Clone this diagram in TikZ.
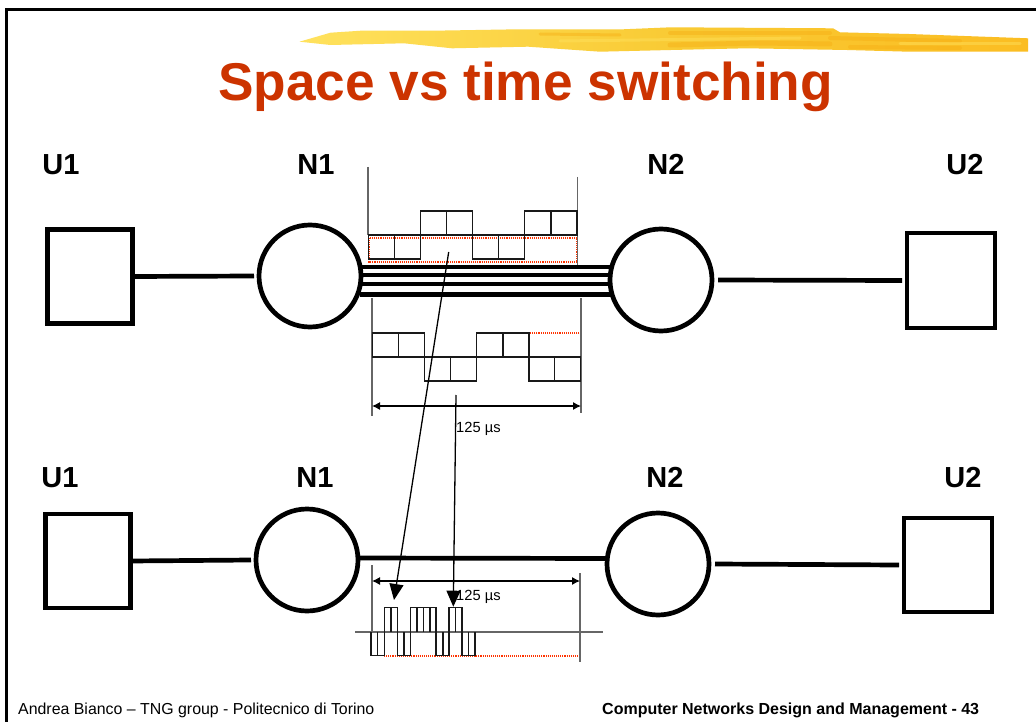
\documentclass[tikz,border=0pt]{standalone}
\usepackage{fontspec}
\setmainfont{Liberation Sans}
\usetikzlibrary{arrows.meta}
\definecolor{titlered}{HTML}{CC3300}
\definecolor{dotred}{HTML}{FF3300}
\definecolor{brushpale}{HTML}{FFE25E}
\definecolor{brushmid}{HTML}{F9CB35}
\definecolor{brushdeep}{HTML}{FBBD22}
\definecolor{brushdark}{HTML}{F6AE14}
\tikzset{
  thickline/.style={line width=4.7pt,black},
  slotline/.style={line width=1.3pt,black!90},
  guide/.style={line width=1.1pt,black!60},
  reddots/.style={line width=1.1pt,dotred,densely dotted},
  streak/.style={line width=#1,line cap=round,opacity=.45},
  usernode/.style={draw,thickline,rectangle,outer sep=0pt,inner sep=0pt},
  netnode/.style={draw,thickline,circle,outer sep=0pt,inner sep=0pt,minimum size=102pt},
  namelabel/.style={font=\fontsize{29}{29}\bfseries\selectfont,anchor=base,inner sep=0pt},
  timelabel/.style={font=\fontsize{14.7}{15}\selectfont,anchor=base west,inner sep=0pt},
  footlabel/.style={font=\fontsize{15.9}{16}\selectfont,anchor=base west,inner sep=0pt},
  dimarrow/.style={line width=1.1pt,black,{Latex[length=8pt,width=8pt]}-{Latex[length=8pt,width=8pt]}},
  bigarrow/.style={line width=1.3pt,black,-{Triangle[length=16pt,width=14pt]}}
}
\begin{document}
\begin{tikzpicture}[x=1pt,y=-1pt]
\useasboundingbox (0,0) rectangle (1036,722);
\fill[white] (0,0) rectangle (1036,722);
% slide frame
\draw[line width=3pt] (6,722) -- (6,9.5) -- (1036,9.5);
% brush stroke
\shade[left color=brushpale,right color=brushdeep,middle color=brushmid]
  (299.5,41.7) -- (330.5,32.7) -- (361,30.7) -- (433,30.7) -- (518.6,29.3) -- (623,29.3)
  -- (671,27.3) -- (833,28.3) -- (840,32.3) -- (909,34) -- (1028,38.3) -- (1028,51.7)
  -- (909,51.7) -- (847,50) -- (747,48.3) -- (671,50) -- (600,51.7) -- (528,46.7)
  -- (452,48.3) -- (404,43.3) -- (330.5,45) -- cycle;
\draw [streak=3pt,brushdark] (540,34) -- (620,35);
\draw [streak=5pt,brushdark] (670,45) -- (760,43) -- (830,44);
\draw [streak=4pt,brushdark] (670,33) -- (830,33);
\draw [streak=4pt,brushdark] (830,38) -- (960,41);
\draw [streak=4pt,brushdark] (850,47) -- (960,48);
\draw [streak=3pt,brushpale] (560,41) -- (800,38);
\draw [streak=3pt,brushpale] (900,44) -- (1020,44);
% title
\node (title) [font=\fontsize{53.2}{54}\bfseries\selectfont,text=titlered,anchor=base,inner sep=0pt] at (525.5,101) {Space vs time switching};

% upper network
\node (upA) [namelabel] at (61,174.5) {U1};
\node (unA) [namelabel] at (316,174.5) {N1};
\node (unB) [namelabel] at (666,174.5) {N2};
\node (upB) [namelabel] at (965,174.5) {U2};
\node (sqA) [usernode,minimum width=85pt,minimum height=94pt] at (90,276.5) {};
\node (ciA) [netnode] at (310,276) {};
\node (ciB) [netnode] at (661,280) {};
\node (sqB) [usernode,minimum width=88pt,minimum height=95pt] at (951,280.5) {};
\draw [thickline] (sqA.east) -- ([xshift=-5pt]ciA.west);
\draw [thickline] ([xshift=6pt]ciB.east) -- ([xshift=-5pt]sqB.west);
\foreach \off in {267,275,284,294.5} {
  \draw [thickline] (360,\off) -- (611,\off);
}

% lower network
\node (loA) [namelabel] at (60,487.5) {U1};
\node (lnA) [namelabel] at (315,487.5) {N1};
\node (lnB) [namelabel] at (665,487.5) {N2};
\node (loB) [namelabel] at (963,487.5) {U2};
\node (sqC) [usernode,minimum width=85pt,minimum height=94pt] at (88,561) {};
\node (ciC) [netnode] at (307,560) {};
\node (ciD) [netnode] at (658,564) {};
\node (sqD) [usernode,minimum width=88pt,minimum height=94pt] at (948,565) {};
\draw [thickline] (sqC.east) -- ([xshift=-5pt]ciC.west);
\draw [thickline] ([yshift=2pt]ciC.east) -- ([yshift=5.5pt]ciD.west);
\draw [thickline] ([xshift=6pt]ciD.east) -- ([xshift=-5pt]sqD.west);

% upper slots
\draw [reddots] (369,238) rectangle (577,262);
\draw [guide] (368,167) -- (368,235);
\draw [guide] (577.5,177) -- (577.5,265);
\draw [slotline] (368.3,235) -- (368.3,259) -- (420.7,259) -- (420.7,211) -- (472.7,211) -- (472.7,259)
  -- (524.7,259) -- (524.7,211) -- (577,211) -- (577,235) -- cycle;
\foreach \x in {394.7,498.7} { \draw [slotline] (\x,235) -- (\x,259); }
\foreach \x in {446.7,551} { \draw [slotline] (\x,211) -- (\x,235); }

% middle slots
\draw [reddots] (476.7,333) rectangle (580.7,357);
\draw [guide] (372,298) -- (372,416);
\draw [guide] (581,298) -- (581,413);
\draw [slotline] (372.3,357) -- (372.3,333) -- (424.7,333) -- (424.7,381) -- (476.7,381) -- (476.7,333)
  -- (529,333) -- (529,381) -- (580.7,381) -- (580.7,357) -- cycle;
\foreach \x in {398.7,503} { \draw [slotline] (\x,333) -- (\x,357); }
\foreach \x in {450.7,554.7} { \draw [slotline] (\x,357) -- (\x,381); }
\coordinate (dimAl) at (372,406);
\coordinate (dimAr) at (581,406);
\draw [dimarrow] (dimAl) -- (dimAr);
\node (timeA) [timelabel] at (456,432) {125 µs};

% lower slots
\draw [reddots] (384,656) -- (475,656);
\draw [reddots] (475,632) rectangle (580,656);
\draw [guide] (372,565) -- (372,632);
\draw [guide] (580,573) -- (580,662);
\draw [guide] (355,632) -- (603,632);
\draw [slotline] (371,632) -- (371,655.7) -- (384.3,655.7) -- (384.3,607.7) -- (397.3,607.7) -- (397.3,655.7)
  -- (410.3,655.7) -- (410.3,607.7) -- (436,607.7) -- (436,655.7) -- (449,655.7) -- (449,607.7)
  -- (462,607.7) -- (462,655.7) -- (475,655.7) -- (475,632);
\foreach \x in {391,417,423.5,430,455.7} { \draw [slotline] (\x,607.7) -- (\x,632); }
\foreach \x in {377.7,404,443,468.7} { \draw [slotline] (\x,632) -- (\x,655.7); }
\coordinate (dimBl) at (372,581);
\coordinate (dimBr) at (580,581);
\draw [dimarrow] (dimBl) -- (dimBr);
\node (timeB) [timelabel] at (456,600) {125 µs};

% slot arrows
\coordinate (fromA) at (448.7,252);
\coordinate (toA) at (394,600);
\coordinate (fromB) at (456,395);
\coordinate (toB) at (453.3,606.7);
\draw [bigarrow] (fromA) -- (toA);
\draw [bigarrow] (fromB) -- (toB);

% footer
\node (footA) [footlabel] at (18,714) {Andrea Bianco – TNG group - Politecnico di Torino};
\node (footB) [footlabel,font=\fontsize{16}{16}\bfseries\selectfont] at (602,714) {Computer Networks Design and Management - 43};
\end{tikzpicture}
\end{document}
